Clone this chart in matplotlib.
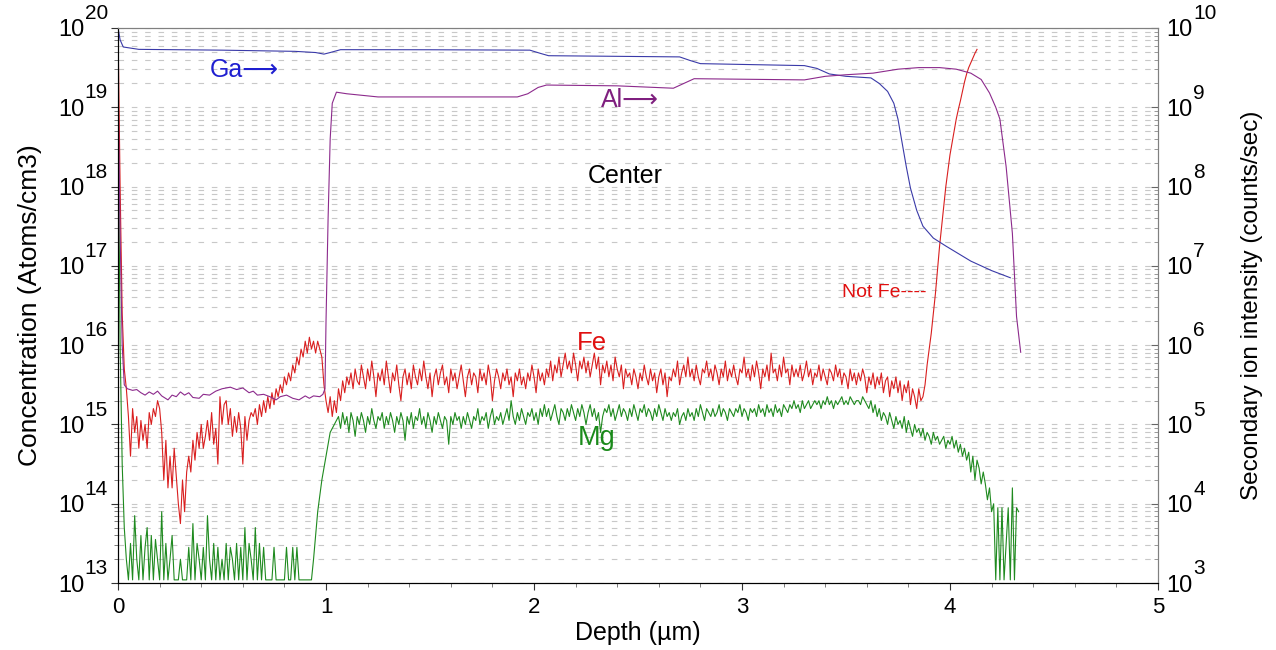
import numpy as np
import matplotlib
matplotlib.use("Agg")
import matplotlib.pyplot as plt
import matplotlib.ticker as ticker
import matplotlib.transforms as mtransforms

plt.rcParams['font.family'] = ['Liberation Sans', 'DejaVu Sans']

# depth step of the Fe / Mg profiles (um per sample)
step = 0.01

# Fe concentration, log10(atoms/cm3), one value per 0.01 um from 0.00 to 4.13
fe_log = [
    20.0, 18.0, 16.4, 15.7, 15.45, 15.1, 14.6, 15.2, 14.9, 15.1,
    14.7, 15.05, 14.8, 15.0, 14.7, 15.15, 15.0, 15.2, 15.1, 15.3,
    15.2, 14.9, 14.3, 14.8, 14.2, 14.6, 14.2, 14.7, 14.35, 14.0,
    13.75, 14.3, 13.9, 14.4, 14.6, 14.4, 14.8, 14.55, 14.9, 14.7,
    15.0, 14.7, 14.85, 15.05, 14.8, 15.15, 14.75, 14.95, 14.5, 15.35,
    15.0, 15.25, 15.3, 15.0, 15.2, 14.85, 15.1, 14.9, 15.15, 14.95,
    14.5, 15.1, 14.8, 15.05, 15.15, 15.1, 15.2, 15.0, 15.25, 15.1,
    15.3, 15.15, 15.35, 15.2, 15.4, 15.25, 15.45, 15.35, 15.5, 15.4,
    15.6, 15.5, 15.65, 15.55, 15.75, 15.65, 15.85, 15.75, 15.95, 15.85,
    16.05, 15.9, 16.1, 15.95, 16.05, 15.9, 16.05, 15.95, 15.85, 15.5,
    15.3, 15.15, 15.35, 15.1, 15.3, 15.15, 15.45, 15.3, 15.55, 15.4,
    15.6, 15.5, 15.65, 15.45, 15.7, 15.55, 15.5, 15.75, 15.6, 15.45,
    15.7, 15.55, 15.8, 15.6, 15.35, 15.65, 15.55, 15.7, 15.5, 15.8,
    15.6, 15.4, 15.65, 15.55, 15.75, 15.5, 15.3, 15.6, 15.7, 15.5,
    15.65, 15.45, 15.75, 15.6, 15.5, 15.7, 15.55, 15.8, 15.6, 15.45,
    15.65, 15.35, 15.6, 15.7, 15.5, 15.65, 15.75, 15.5, 15.6, 15.4,
    15.7, 15.55, 15.65, 15.45, 15.6, 15.75, 15.55, 15.35, 15.6, 15.7,
    15.5, 15.65, 15.6, 15.4, 15.7, 15.55, 15.65, 15.5, 15.75, 15.6,
    15.3, 15.55, 15.7, 15.6, 15.45, 15.65, 15.55, 15.7, 15.5, 15.6,
    15.35, 15.65, 15.55, 15.7, 15.5, 15.6, 15.45, 15.65, 15.55, 15.75,
    15.6, 15.4, 15.7, 15.55, 15.65, 15.5, 15.7, 15.6, 15.8, 15.55,
    15.75, 15.65, 15.85, 15.6, 15.75, 15.9, 15.7, 15.8, 15.65, 15.9,
    15.75, 15.55, 15.8, 15.7, 15.85, 15.65, 15.8, 15.6, 15.75, 15.9,
    15.7, 15.85, 15.5, 15.75, 15.65, 15.8, 15.6, 15.75, 15.55, 15.85,
    15.7, 15.6, 15.75, 15.45, 15.7, 15.6, 15.65, 15.5, 15.7, 15.6,
    15.45, 15.65, 15.55, 15.75, 15.6, 15.5, 15.7, 15.55, 15.65, 15.4,
    15.6, 15.7, 15.5, 15.65, 15.35, 15.6, 15.55, 15.7, 15.6, 15.8,
    15.5, 15.65, 15.75, 15.6, 15.85, 15.6, 15.7, 15.55, 15.75, 15.6,
    15.5, 15.7, 15.65, 15.8, 15.6, 15.7, 15.55, 15.75, 15.65, 15.5,
    15.7, 15.6, 15.8, 15.55, 15.7, 15.6, 15.75, 15.6, 15.5, 15.7,
    15.65, 15.85, 15.6, 15.7, 15.55, 15.75, 15.6, 15.8, 15.65, 15.45,
    15.7, 15.6, 15.75, 15.55, 15.9, 15.65, 15.7, 15.55, 15.75, 15.6,
    15.85, 15.65, 15.7, 15.5, 15.75, 15.6, 15.7, 15.6, 15.75, 15.55,
    15.65, 15.8, 15.6, 15.7, 15.5, 15.65, 15.6, 15.75, 15.55, 15.7,
    15.6, 15.5, 15.7, 15.65, 15.55, 15.75, 15.6, 15.7, 15.5, 15.65,
    15.6, 15.45, 15.7, 15.55, 15.65, 15.5, 15.65, 15.55, 15.7, 15.6,
    15.4, 15.6, 15.5, 15.65, 15.45, 15.6, 15.5, 15.65, 15.4, 15.55,
    15.6, 15.35, 15.55, 15.45, 15.6, 15.4, 15.55, 15.3, 15.5, 15.4,
    15.55, 15.25, 15.45, 15.35, 15.2, 15.45, 15.3, 15.35, 15.5, 15.75,
    15.95, 16.15, 16.4, 16.65, 16.95, 17.25, 17.5, 17.75, 18.0, 18.2,
    18.4, 18.55, 18.7, 18.85, 18.97, 19.08, 19.2, 19.32, 19.42, 19.5,
    19.56, 19.62, 19.68, 19.73,
]

# Mg concentration, log10(atoms/cm3), one value per 0.01 um from 0.00 to 4.33
mg_log = [
    19.2, 16.0, 14.5, 13.7, 13.3, 13.04, 13.5, 13.04, 13.85, 13.3,
    13.04, 13.6, 13.04, 13.45, 13.7, 13.04, 13.6, 13.04, 13.55, 13.3,
    13.04, 13.9, 13.04, 13.5, 13.04, 13.3, 13.6, 13.04, 13.04, 13.04,
    13.3, 13.04, 13.04, 13.04, 13.45, 13.04, 13.75, 13.04, 13.5, 13.3,
    13.04, 13.45, 13.04, 13.85, 13.3, 13.04, 13.5, 13.04, 13.45, 13.04,
    13.3, 13.04, 13.5, 13.04, 13.45, 13.3, 13.04, 13.5, 13.04, 13.45,
    13.04, 13.7, 13.04, 13.5, 13.3, 13.04, 13.7, 13.04, 13.5, 13.04,
    13.45, 13.04, 13.04, 13.04, 13.04, 13.45, 13.04, 13.04, 13.04, 13.04,
    13.04, 13.45, 13.04, 13.04, 13.45, 13.04, 13.45, 13.04, 13.04, 13.04,
    13.04, 13.04, 13.04, 13.04, 13.3, 13.6, 13.9, 14.1, 14.3, 14.45,
    14.6, 14.75, 14.9, 14.95, 15.0, 15.05, 15.1, 14.95, 15.15, 15.0,
    15.1, 14.9, 15.15, 15.05, 14.85, 15.1, 15.0, 15.15, 15.05, 14.9,
    15.1, 15.0, 15.2, 15.05, 14.95, 15.1, 15.05, 15.15, 14.95, 15.1,
    15.0, 15.15, 15.05, 14.9, 15.1, 15.0, 15.15, 15.05, 14.8, 15.1,
    15.0, 15.15, 14.95, 15.1, 15.05, 15.2, 15.0, 15.1, 14.95, 15.15,
    15.05, 14.9, 15.1, 15.0, 15.15, 15.05, 14.95, 15.1, 15.05, 14.75,
    15.1, 15.0, 15.15, 15.05, 15.1, 14.95, 15.1, 15.0, 15.15, 15.05,
    14.95, 15.1, 15.05, 15.2, 15.0, 15.1, 15.05, 15.15, 14.95, 15.1,
    15.2, 15.0, 15.1, 15.05, 15.15, 15.0, 15.1, 15.2, 15.05, 15.3,
    15.1, 15.0, 15.15, 15.05, 15.2, 15.1, 15.0, 15.15, 15.1, 15.2,
    15.05, 15.15, 15.0, 15.2, 15.1, 15.25, 15.1, 15.2, 15.05, 15.15,
    15.25, 15.1, 15.0, 15.2, 15.15, 15.05, 15.2, 15.1, 15.25, 15.15,
    15.05, 15.2, 15.1, 15.25, 15.15, 15.0, 15.15, 15.25, 15.1, 15.2,
    15.05, 15.15, 14.9, 15.1, 15.2, 15.15, 15.25, 15.1, 15.2, 15.05,
    15.15, 15.25, 15.1, 15.2, 15.15, 15.05, 15.2, 15.1, 15.25, 15.15,
    15.05, 15.2, 15.15, 15.25, 15.1, 15.2, 15.15, 15.05, 15.2, 15.1,
    15.25, 15.15, 15.05, 15.2, 15.1, 15.15, 15.05, 15.15, 15.1, 15.2,
    15.0, 15.1, 15.15, 15.05, 15.2, 15.1, 15.15, 15.05, 15.2, 15.1,
    15.25, 15.15, 15.05, 15.2, 15.15, 15.1, 15.2, 15.1, 15.15, 15.25,
    15.1, 15.2, 15.15, 15.05, 15.2, 15.15, 15.1, 15.2, 15.15, 15.25,
    15.1, 15.2, 15.15, 15.05, 15.2, 15.15, 15.2, 15.1, 15.25, 15.15,
    15.2, 15.1, 15.25, 15.15, 15.2, 15.1, 15.25, 15.15, 15.2, 15.1,
    15.25, 15.2, 15.15, 15.25, 15.2, 15.3, 15.2, 15.25, 15.15, 15.3,
    15.2, 15.25, 15.3, 15.2, 15.25, 15.3, 15.25, 15.3, 15.2, 15.3,
    15.25, 15.35, 15.25, 15.3, 15.2, 15.3, 15.25, 15.3, 15.35, 15.25,
    15.3, 15.25, 15.35, 15.3, 15.25, 15.3, 15.3, 15.25, 15.35, 15.3,
    15.25, 15.2, 15.3, 15.15, 15.25, 15.1, 15.2, 15.05, 15.15, 15.1,
    15.0, 15.15, 15.05, 14.95, 15.1, 15.0, 15.05, 14.95, 15.1, 14.9,
    15.05, 14.95, 14.85, 15.0, 14.9, 14.95, 14.85, 14.95, 14.8, 14.9,
    14.85, 14.75, 14.9, 14.8, 14.85, 14.75, 14.8, 14.85, 14.7, 14.8,
    14.75, 14.85, 14.7, 14.8, 14.65, 14.75, 14.6, 14.7, 14.55, 14.65,
    14.4, 14.6, 14.3, 14.55, 14.45, 14.25, 14.4, 14.25, 14.05, 14.2,
    13.9, 14.0, 13.04, 13.95, 13.04, 13.95, 13.04, 13.5, 13.95, 13.04,
    14.2, 13.04, 13.95, 13.9,
]

# Ga and Al secondary ion intensity, log10(counts/sec)
ga_depth = [0.0, 0.01, 0.025, 0.1, 0.5, 0.85, 0.95, 0.99, 1.02, 1.07, 1.5,
            1.98, 2.03, 2.07, 2.7, 2.75, 2.8, 3.0, 3.3, 3.36, 3.42, 3.5,
            3.62, 3.66, 3.70, 3.73, 3.75, 3.77, 3.79, 3.81, 3.84, 3.87,
            3.92, 3.98, 4.1, 4.2, 4.29]
ga_log = [10.0, 9.85, 9.76, 9.73, 9.72, 9.705, 9.69, 9.67, 9.69, 9.726, 9.725,
          9.72, 9.68, 9.65, 9.635, 9.59, 9.55, 9.54, 9.525, 9.49, 9.42, 9.39,
          9.37, 9.3, 9.2, 9.05, 8.85, 8.55, 8.25, 7.98, 7.7, 7.5,
          7.35, 7.25, 7.06, 6.94, 6.85]

al_depth = [0.0, 0.01, 0.02, 0.03, 0.045, 0.07, 0.09, 0.11, 0.13, 0.15, 0.17,
            0.19, 0.21, 0.24, 0.26, 0.28, 0.30, 0.32, 0.34, 0.36, 0.39, 0.41,
            0.44, 0.47, 0.50, 0.54, 0.57, 0.60, 0.63, 0.65, 0.67, 0.70, 0.73,
            0.76, 0.78, 0.81, 0.84, 0.87, 0.90, 0.92, 0.94, 0.97, 0.985,
            0.995, 1.0, 1.01, 1.02, 1.03, 1.05, 1.1, 1.25, 1.92, 1.97, 2.02,
            2.06, 2.4, 2.67, 2.72, 2.77, 3.3, 3.4, 3.5, 3.63, 3.75, 3.85,
            3.95, 4.03, 4.1, 4.15, 4.19, 4.22, 4.24, 4.27, 4.3, 4.32, 4.34]
al_log = [9.3, 7.4, 6.0, 5.5, 5.45, 5.43, 5.44, 5.40, 5.37, 5.41, 5.38,
          5.42, 5.36, 5.31, 5.37, 5.35, 5.41, 5.37, 5.40, 5.34, 5.33, 5.38,
          5.37, 5.42, 5.45, 5.47, 5.44, 5.46, 5.40, 5.42, 5.37, 5.38, 5.35,
          5.31, 5.35, 5.37, 5.33, 5.31, 5.36, 5.33, 5.36, 5.35, 5.38,
          5.45, 6.3, 7.6, 8.6, 9.05, 9.19, 9.17, 9.13, 9.13, 9.17, 9.25,
          9.28, 9.27, 9.24, 9.3, 9.36, 9.345, 9.39, 9.41, 9.43, 9.48, 9.5,
          9.5, 9.48, 9.43, 9.35, 9.18, 9.0, 8.85, 8.25, 7.41, 6.36, 5.91]

# decade labels of the two y axes
conc_exps = [13, 14, 15, 16, 17, 18, 19, 20]
ion_exps = [3, 4, 5, 6, 7, 8, 9, 10]

fe = 10 ** np.array(fe_log)
mg = 10 ** np.array(mg_log)
fe_depth = np.arange(len(fe)) * step
mg_depth = np.arange(len(mg)) * step
ga = 10 ** np.array(ga_log)
al = 10 ** np.array(al_log)

fig = plt.figure(figsize=(12.76, 6.5), dpi=100)
ax = fig.add_axes([0.0925, 0.103, 0.815, 0.854])
ax2 = ax.twinx()

ax.plot(mg_depth, mg, color='#1f8a1f', lw=0.8)
ax.plot(fe_depth, fe, color='#d91f1f', lw=0.8)
ax2.plot(ga_depth, ga, color='#3a3aa8', lw=0.8)
ax2.plot(al_depth, al, color='#8c2a8c', lw=0.8)

ax.set_yscale('log')
ax2.set_yscale('log')
ax.set_xlim(0, 5)
ax.set_ylim(1e13, 1e20)
ax2.set_ylim(1e3, 1e10)

for a in (ax, ax2):
    a.yaxis.set_major_locator(ticker.LogLocator(base=10, numticks=20))
    a.yaxis.set_minor_locator(ticker.LogLocator(base=10, subs=np.arange(2, 10), numticks=20))
    a.yaxis.set_minor_formatter(ticker.NullFormatter())

ax.xaxis.set_major_locator(ticker.MultipleLocator(1))
ax.xaxis.set_minor_locator(ticker.MultipleLocator(0.2))
ax.tick_params(axis='both', which='major', labelsize=16, direction='out', length=5, color='#333333')
ax.tick_params(axis='x', which='major', pad=5)
ax.tick_params(axis='y', labelleft=False)
ax.tick_params(axis='both', which='minor', direction='out', length=3, color='#666666')
ax2.tick_params(axis='y', which='major', direction='in', length=5, color='#666666', labelright=False)
ax2.tick_params(axis='y', which='minor', direction='in', length=3, color='#888888')

# "10" + large exponent, as the original software writes them
ytr = ax.get_yaxis_transform()
for e in conc_exps:
    base = mtransforms.offset_copy(ytr, fig=fig, x=-24.4, y=-6.1, units='points')
    sup = mtransforms.offset_copy(ytr, fig=fig, x=-7.2, y=6.3, units='points')
    ax.text(0, 10.0**e, '10', transform=base, fontsize=17, ha='right', va='baseline')
    ax.text(0, 10.0**e, str(e), transform=sup, fontsize=15, ha='right', va='baseline')

ytr2 = ax2.get_yaxis_transform()
for e in ion_exps:
    base = mtransforms.offset_copy(ytr2, fig=fig, x=5.8, y=-6.1, units='points')
    sup = mtransforms.offset_copy(ytr2, fig=fig, x=25.4, y=6.3, units='points')
    ax2.text(1, 10.0**e, '10', transform=base, fontsize=17, ha='left', va='baseline')
    ax2.text(1, 10.0**e, str(e), transform=sup, fontsize=15, ha='left', va='baseline')

ax.grid(True, which='both', axis='y', color='#c8c8c8', lw=0.8, linestyle=(0, (5, 7)))
ax.set_axisbelow(True)

for s in ('left', 'bottom'):
    ax.spines[s].set_color('black')
for s in ('top', 'right'):
    ax2.spines[s].set_color('#808080')
    ax.spines[s].set_color('#808080')

ax.set_xlabel('Depth (µm)', fontsize=18)
ax.set_ylabel('Concentration (Atoms/cm3)', fontsize=19)
ax2.set_ylabel('Secondary ion intensity (counts/sec)', fontsize=17.5)
ax.xaxis.set_label_coords(0.5, -0.068)
ax.yaxis.set_label_coords(-0.073, 0.5)
ax2.yaxis.set_label_coords(1.080, 0.5)

ax.text(0.44, 10**19.47, 'Ga⟶', color='#1f1fd0', fontsize=18, ha='left', va='center')
ax.text(2.32, 10**19.09, 'Al⟶', color='#7f1f7f', fontsize=18, ha='left', va='center')
ax.text(2.44, 10**18.13, 'Center', color='black', fontsize=18, ha='center', va='center')
ax.text(2.28, 10**16.03, 'Fe', color='#e01010', fontsize=18.5, ha='center', va='center')
ax.text(2.30, 10**14.83, 'Mg', color='#1a8a1a', fontsize=19.5, ha='center', va='center')
ax.text(3.48, 10**16.67, 'Not Fe----', color='#e01010', fontsize=14, ha='left', va='center')

fig.savefig('out.png', dpi=100)
